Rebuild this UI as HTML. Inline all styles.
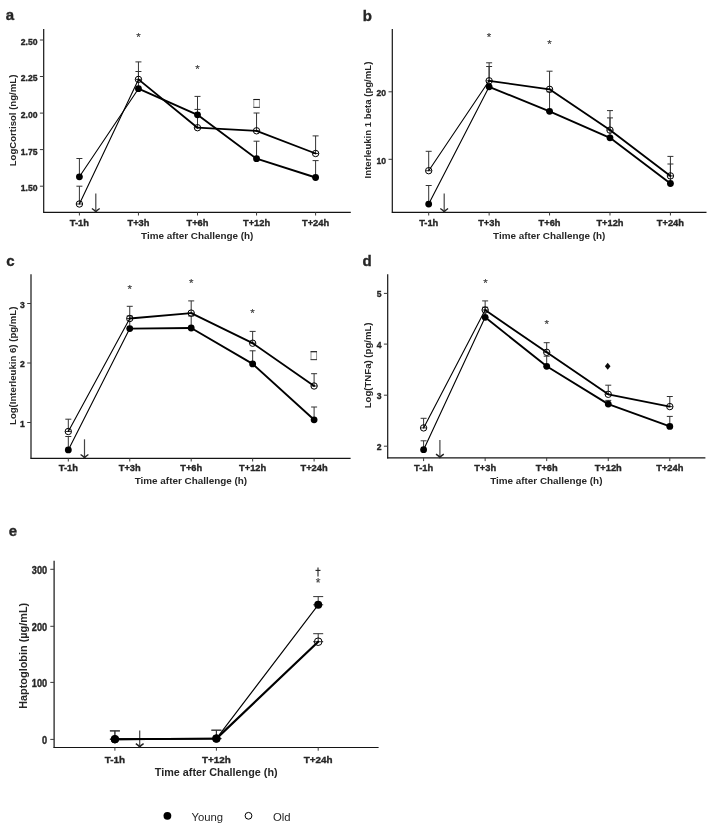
<!DOCTYPE html><html><head><meta charset="utf-8"><style>html,body{margin:0;padding:0;background:#fff;}svg{display:block;filter:grayscale(1) blur(0.3px);}text{font-family:"Liberation Sans",sans-serif;}</style></head><body>
<svg width="710" height="829" viewBox="0 0 710 829">
<rect width="710" height="829" fill="#fff"/>
<line x1="43.7" y1="29" x2="43.7" y2="212.8" stroke="#141414" stroke-width="1.2" />
<line x1="43.2" y1="212.3" x2="350.8" y2="212.3" stroke="#141414" stroke-width="1.2" />
<line x1="39.9" y1="40" x2="43.7" y2="40" stroke="#3a3a3a" stroke-width="1" />
<text x="0" y="0" transform="translate(37.5 44.9) scale(0.93 1.03)" font-size="9.3" text-anchor="end" font-weight="bold" fill="#262626" stroke="#262626" stroke-width="0.35" >2.50</text>
<line x1="39.9" y1="76.5" x2="43.7" y2="76.5" stroke="#3a3a3a" stroke-width="1" />
<text x="0" y="0" transform="translate(37.5 81.4) scale(0.93 1.03)" font-size="9.3" text-anchor="end" font-weight="bold" fill="#262626" stroke="#262626" stroke-width="0.35" >2.25</text>
<line x1="39.9" y1="113.1" x2="43.7" y2="113.1" stroke="#3a3a3a" stroke-width="1" />
<text x="0" y="0" transform="translate(37.5 118) scale(0.93 1.03)" font-size="9.3" text-anchor="end" font-weight="bold" fill="#262626" stroke="#262626" stroke-width="0.35" >2.00</text>
<line x1="39.9" y1="149.6" x2="43.7" y2="149.6" stroke="#3a3a3a" stroke-width="1" />
<text x="0" y="0" transform="translate(37.5 154.5) scale(0.93 1.03)" font-size="9.3" text-anchor="end" font-weight="bold" fill="#262626" stroke="#262626" stroke-width="0.35" >1.75</text>
<line x1="39.9" y1="186.2" x2="43.7" y2="186.2" stroke="#3a3a3a" stroke-width="1" />
<text x="0" y="0" transform="translate(37.5 191.1) scale(0.93 1.03)" font-size="9.3" text-anchor="end" font-weight="bold" fill="#262626" stroke="#262626" stroke-width="0.35" >1.50</text>
<line x1="79.4" y1="212.3" x2="79.4" y2="215.5" stroke="#3a3a3a" stroke-width="1" />
<text x="79.4" y="226.2" font-size="9.3" text-anchor="middle" font-weight="bold" fill="#262626" stroke="#262626" stroke-width="0.35" >T-1h</text>
<line x1="138.45" y1="212.3" x2="138.45" y2="215.5" stroke="#3a3a3a" stroke-width="1" />
<text x="138.45" y="226.2" font-size="9.3" text-anchor="middle" font-weight="bold" fill="#262626" stroke="#262626" stroke-width="0.35" >T+3h</text>
<line x1="197.5" y1="212.3" x2="197.5" y2="215.5" stroke="#3a3a3a" stroke-width="1" />
<text x="197.5" y="226.2" font-size="9.3" text-anchor="middle" font-weight="bold" fill="#262626" stroke="#262626" stroke-width="0.35" >T+6h</text>
<line x1="256.55" y1="212.3" x2="256.55" y2="215.5" stroke="#3a3a3a" stroke-width="1" />
<text x="256.55" y="226.2" font-size="9.3" text-anchor="middle" font-weight="bold" fill="#262626" stroke="#262626" stroke-width="0.35" >T+12h</text>
<line x1="315.6" y1="212.3" x2="315.6" y2="215.5" stroke="#3a3a3a" stroke-width="1" />
<text x="315.6" y="226.2" font-size="9.3" text-anchor="middle" font-weight="bold" fill="#262626" stroke="#262626" stroke-width="0.35" >T+24h</text>
<text x="197.2" y="239.2" font-size="9.9" text-anchor="middle" font-weight="bold" fill="#262626" stroke-width="0">Time after Challenge (h)</text>
<text x="0" y="0" transform="translate(15.6 120.5) rotate(-90)" font-size="9.6" text-anchor="middle" font-weight="bold" fill="#262626" stroke-width="0">LogCortisol (ng/mL)</text>
<text x="5.8" y="20.2" font-size="15" text-anchor="start" font-weight="bold" fill="#262626" stroke="#262626" stroke-width="0.35" >a</text>
<line x1="95.8" y1="193.6" x2="95.8" y2="211.7" stroke="#444" stroke-width="1.2" />
<path d="M91.9 208.5 Q94.8 210.3 95.8 211.8 Q96.8 210.3 99.7 208.5" fill="none" stroke="#222" stroke-width="1.4"/>
<line x1="79.4" y1="186.2" x2="79.4" y2="204" stroke="#333" stroke-width="1" />
<line x1="76.4" y1="186.2" x2="82.4" y2="186.2" stroke="#333" stroke-width="1" />
<line x1="76.4" y1="204" x2="82.4" y2="204" stroke="#333" stroke-width="1" />
<line x1="138.45" y1="61.9" x2="138.45" y2="79.4" stroke="#333" stroke-width="1" />
<line x1="135.45" y1="61.9" x2="141.45" y2="61.9" stroke="#333" stroke-width="1" />
<line x1="135.45" y1="79.4" x2="141.45" y2="79.4" stroke="#333" stroke-width="1" />
<line x1="197.5" y1="109.4" x2="197.5" y2="127.7" stroke="#333" stroke-width="1" />
<line x1="194.5" y1="109.4" x2="200.5" y2="109.4" stroke="#333" stroke-width="1" />
<line x1="194.5" y1="127.7" x2="200.5" y2="127.7" stroke="#333" stroke-width="1" />
<line x1="256.55" y1="113" x2="256.55" y2="130.8" stroke="#333" stroke-width="1" />
<line x1="253.55" y1="113" x2="259.55" y2="113" stroke="#333" stroke-width="1" />
<line x1="253.55" y1="130.8" x2="259.55" y2="130.8" stroke="#333" stroke-width="1" />
<line x1="315.6" y1="135.9" x2="315.6" y2="153.5" stroke="#333" stroke-width="1" />
<line x1="312.6" y1="135.9" x2="318.6" y2="135.9" stroke="#333" stroke-width="1" />
<line x1="312.6" y1="153.5" x2="318.6" y2="153.5" stroke="#333" stroke-width="1" />
<line x1="79.4" y1="158.5" x2="79.4" y2="176.8" stroke="#333" stroke-width="1" />
<line x1="76.4" y1="158.5" x2="82.4" y2="158.5" stroke="#333" stroke-width="1" />
<line x1="76.4" y1="176.8" x2="82.4" y2="176.8" stroke="#333" stroke-width="1" />
<line x1="138.45" y1="71.5" x2="138.45" y2="88.7" stroke="#333" stroke-width="1" />
<line x1="135.45" y1="71.5" x2="141.45" y2="71.5" stroke="#333" stroke-width="1" />
<line x1="135.45" y1="88.7" x2="141.45" y2="88.7" stroke="#333" stroke-width="1" />
<line x1="197.5" y1="96.4" x2="197.5" y2="114.8" stroke="#333" stroke-width="1" />
<line x1="194.5" y1="96.4" x2="200.5" y2="96.4" stroke="#333" stroke-width="1" />
<line x1="194.5" y1="114.8" x2="200.5" y2="114.8" stroke="#333" stroke-width="1" />
<line x1="256.55" y1="141.2" x2="256.55" y2="158.7" stroke="#333" stroke-width="1" />
<line x1="253.55" y1="141.2" x2="259.55" y2="141.2" stroke="#333" stroke-width="1" />
<line x1="253.55" y1="158.7" x2="259.55" y2="158.7" stroke="#333" stroke-width="1" />
<line x1="315.6" y1="160.6" x2="315.6" y2="177.5" stroke="#333" stroke-width="1" />
<line x1="312.6" y1="160.6" x2="318.6" y2="160.6" stroke="#333" stroke-width="1" />
<line x1="312.6" y1="177.5" x2="318.6" y2="177.5" stroke="#333" stroke-width="1" />
<line x1="79.4" y1="204" x2="138.45" y2="79.4" stroke="#000" stroke-width="1.1" stroke-linecap="round"/>
<line x1="138.45" y1="79.4" x2="197.5" y2="127.7" stroke="#000" stroke-width="1.85" stroke-linecap="round"/>
<line x1="197.5" y1="127.7" x2="256.55" y2="130.8" stroke="#000" stroke-width="1.85" stroke-linecap="round"/>
<line x1="256.55" y1="130.8" x2="315.6" y2="153.5" stroke="#000" stroke-width="1.85" stroke-linecap="round"/>
<line x1="79.4" y1="176.8" x2="138.45" y2="88.7" stroke="#000" stroke-width="1.1" stroke-linecap="round"/>
<line x1="138.45" y1="88.7" x2="197.5" y2="114.8" stroke="#000" stroke-width="1.85" stroke-linecap="round"/>
<line x1="197.5" y1="114.8" x2="256.55" y2="158.7" stroke="#000" stroke-width="1.85" stroke-linecap="round"/>
<line x1="256.55" y1="158.7" x2="315.6" y2="177.5" stroke="#000" stroke-width="1.85" stroke-linecap="round"/>
<circle cx="79.4" cy="176.8" r="3.4" fill="#000"/>
<circle cx="138.45" cy="88.7" r="3.4" fill="#000"/>
<circle cx="197.5" cy="114.8" r="3.4" fill="#000"/>
<circle cx="256.55" cy="158.7" r="3.4" fill="#000"/>
<circle cx="315.6" cy="177.5" r="3.4" fill="#000"/>
<circle cx="79.4" cy="204" r="3.1999999999999997" fill="none" stroke="#000" stroke-width="1"/>
<circle cx="138.45" cy="79.4" r="3.1999999999999997" fill="none" stroke="#000" stroke-width="1"/>
<circle cx="197.5" cy="127.7" r="3.1999999999999997" fill="none" stroke="#000" stroke-width="1"/>
<circle cx="256.55" cy="130.8" r="3.1999999999999997" fill="none" stroke="#000" stroke-width="1"/>
<circle cx="315.6" cy="153.5" r="3.1999999999999997" fill="none" stroke="#000" stroke-width="1"/>
<text x="138.5" y="40.97" font-size="11.5" text-anchor="middle" font-weight="normal" fill="#3a3a3a" stroke="#3a3a3a" stroke-width="0.15">*</text>
<text x="197.5" y="73.17" font-size="11.5" text-anchor="middle" font-weight="normal" fill="#3a3a3a" stroke="#3a3a3a" stroke-width="0.15">*</text>
<rect x="253.8" y="99.5" width="5.6" height="7.9" fill="none" stroke="#8a8a8a" stroke-width="0.9"/>
<line x1="253.4" y1="99.5" x2="259.8" y2="99.5" stroke="#1a1a1a" stroke-width="1.1" />
<line x1="253.4" y1="107.4" x2="259.8" y2="107.4" stroke="#444" stroke-width="1.1" />
<line x1="392.3" y1="29" x2="392.3" y2="212.8" stroke="#141414" stroke-width="1.2" />
<line x1="391.8" y1="212.3" x2="706.5" y2="212.3" stroke="#141414" stroke-width="1.2" />
<line x1="388.5" y1="91.8" x2="392.3" y2="91.8" stroke="#3a3a3a" stroke-width="1" />
<text x="0" y="0" transform="translate(386.1 96.1) scale(0.93 1.03)" font-size="9.3" text-anchor="end" font-weight="bold" fill="#262626" stroke="#262626" stroke-width="0.35" >20</text>
<line x1="388.5" y1="159.3" x2="392.3" y2="159.3" stroke="#3a3a3a" stroke-width="1" />
<text x="0" y="0" transform="translate(386.1 163.6) scale(0.93 1.03)" font-size="9.3" text-anchor="end" font-weight="bold" fill="#262626" stroke="#262626" stroke-width="0.35" >10</text>
<line x1="428.7" y1="212.3" x2="428.7" y2="215.5" stroke="#3a3a3a" stroke-width="1" />
<text x="428.7" y="226.2" font-size="9.3" text-anchor="middle" font-weight="bold" fill="#262626" stroke="#262626" stroke-width="0.35" >T-1h</text>
<line x1="489.13" y1="212.3" x2="489.13" y2="215.5" stroke="#3a3a3a" stroke-width="1" />
<text x="489.13" y="226.2" font-size="9.3" text-anchor="middle" font-weight="bold" fill="#262626" stroke="#262626" stroke-width="0.35" >T+3h</text>
<line x1="549.56" y1="212.3" x2="549.56" y2="215.5" stroke="#3a3a3a" stroke-width="1" />
<text x="549.56" y="226.2" font-size="9.3" text-anchor="middle" font-weight="bold" fill="#262626" stroke="#262626" stroke-width="0.35" >T+6h</text>
<line x1="609.99" y1="212.3" x2="609.99" y2="215.5" stroke="#3a3a3a" stroke-width="1" />
<text x="609.99" y="226.2" font-size="9.3" text-anchor="middle" font-weight="bold" fill="#262626" stroke="#262626" stroke-width="0.35" >T+12h</text>
<line x1="670.42" y1="212.3" x2="670.42" y2="215.5" stroke="#3a3a3a" stroke-width="1" />
<text x="670.42" y="226.2" font-size="9.3" text-anchor="middle" font-weight="bold" fill="#262626" stroke="#262626" stroke-width="0.35" >T+24h</text>
<text x="549.2" y="239.2" font-size="9.9" text-anchor="middle" font-weight="bold" fill="#262626" stroke-width="0">Time after Challenge (h)</text>
<text x="0" y="0" transform="translate(371.3 120) rotate(-90)" font-size="9.6" text-anchor="middle" font-weight="bold" fill="#262626" stroke-width="0">Interleukin 1 beta (pg/mL)</text>
<text x="362.8" y="20.5" font-size="15" text-anchor="start" font-weight="bold" fill="#262626" stroke="#262626" stroke-width="0.35" >b</text>
<line x1="444.2" y1="193.5" x2="444.2" y2="211.7" stroke="#444" stroke-width="1.2" />
<path d="M440.3 208.5 Q443.2 210.3 444.2 211.8 Q445.2 210.3 448.1 208.5" fill="none" stroke="#222" stroke-width="1.4"/>
<line x1="428.7" y1="151.3" x2="428.7" y2="170.7" stroke="#333" stroke-width="1" />
<line x1="425.7" y1="151.3" x2="431.7" y2="151.3" stroke="#333" stroke-width="1" />
<line x1="425.7" y1="170.7" x2="431.7" y2="170.7" stroke="#333" stroke-width="1" />
<line x1="489.13" y1="62.8" x2="489.13" y2="80.8" stroke="#333" stroke-width="1" />
<line x1="486.13" y1="62.8" x2="492.13" y2="62.8" stroke="#333" stroke-width="1" />
<line x1="486.13" y1="80.8" x2="492.13" y2="80.8" stroke="#333" stroke-width="1" />
<line x1="549.56" y1="71.2" x2="549.56" y2="89.3" stroke="#333" stroke-width="1" />
<line x1="546.56" y1="71.2" x2="552.56" y2="71.2" stroke="#333" stroke-width="1" />
<line x1="546.56" y1="89.3" x2="552.56" y2="89.3" stroke="#333" stroke-width="1" />
<line x1="609.99" y1="110.6" x2="609.99" y2="130.1" stroke="#333" stroke-width="1" />
<line x1="606.99" y1="110.6" x2="612.99" y2="110.6" stroke="#333" stroke-width="1" />
<line x1="606.99" y1="130.1" x2="612.99" y2="130.1" stroke="#333" stroke-width="1" />
<line x1="670.42" y1="156.4" x2="670.42" y2="175.9" stroke="#333" stroke-width="1" />
<line x1="667.42" y1="156.4" x2="673.42" y2="156.4" stroke="#333" stroke-width="1" />
<line x1="667.42" y1="175.9" x2="673.42" y2="175.9" stroke="#333" stroke-width="1" />
<line x1="428.7" y1="185.5" x2="428.7" y2="204.1" stroke="#333" stroke-width="1" />
<line x1="425.7" y1="185.5" x2="431.7" y2="185.5" stroke="#333" stroke-width="1" />
<line x1="425.7" y1="204.1" x2="431.7" y2="204.1" stroke="#333" stroke-width="1" />
<line x1="489.13" y1="66.5" x2="489.13" y2="86.8" stroke="#333" stroke-width="1" />
<line x1="486.13" y1="66.5" x2="492.13" y2="66.5" stroke="#333" stroke-width="1" />
<line x1="486.13" y1="86.8" x2="492.13" y2="86.8" stroke="#333" stroke-width="1" />
<line x1="549.56" y1="91.8" x2="549.56" y2="111.3" stroke="#333" stroke-width="1" />
<line x1="546.56" y1="91.8" x2="552.56" y2="91.8" stroke="#333" stroke-width="1" />
<line x1="546.56" y1="111.3" x2="552.56" y2="111.3" stroke="#333" stroke-width="1" />
<line x1="609.99" y1="117.9" x2="609.99" y2="137.8" stroke="#333" stroke-width="1" />
<line x1="606.99" y1="117.9" x2="612.99" y2="117.9" stroke="#333" stroke-width="1" />
<line x1="606.99" y1="137.8" x2="612.99" y2="137.8" stroke="#333" stroke-width="1" />
<line x1="670.42" y1="164" x2="670.42" y2="183.5" stroke="#333" stroke-width="1" />
<line x1="667.42" y1="164" x2="673.42" y2="164" stroke="#333" stroke-width="1" />
<line x1="667.42" y1="183.5" x2="673.42" y2="183.5" stroke="#333" stroke-width="1" />
<line x1="428.7" y1="170.7" x2="489.13" y2="80.8" stroke="#000" stroke-width="1.1" stroke-linecap="round"/>
<line x1="489.13" y1="80.8" x2="549.56" y2="89.3" stroke="#000" stroke-width="1.85" stroke-linecap="round"/>
<line x1="549.56" y1="89.3" x2="609.99" y2="130.1" stroke="#000" stroke-width="1.85" stroke-linecap="round"/>
<line x1="609.99" y1="130.1" x2="670.42" y2="175.9" stroke="#000" stroke-width="1.85" stroke-linecap="round"/>
<line x1="428.7" y1="204.1" x2="489.13" y2="86.8" stroke="#000" stroke-width="1.1" stroke-linecap="round"/>
<line x1="489.13" y1="86.8" x2="549.56" y2="111.3" stroke="#000" stroke-width="1.85" stroke-linecap="round"/>
<line x1="549.56" y1="111.3" x2="609.99" y2="137.8" stroke="#000" stroke-width="1.85" stroke-linecap="round"/>
<line x1="609.99" y1="137.8" x2="670.42" y2="183.5" stroke="#000" stroke-width="1.85" stroke-linecap="round"/>
<circle cx="428.7" cy="204.1" r="3.4" fill="#000"/>
<circle cx="489.13" cy="86.8" r="3.4" fill="#000"/>
<circle cx="549.56" cy="111.3" r="3.4" fill="#000"/>
<circle cx="609.99" cy="137.8" r="3.4" fill="#000"/>
<circle cx="670.42" cy="183.5" r="3.4" fill="#000"/>
<circle cx="428.7" cy="170.7" r="3.1999999999999997" fill="none" stroke="#000" stroke-width="1"/>
<circle cx="489.13" cy="80.8" r="3.1999999999999997" fill="none" stroke="#000" stroke-width="1"/>
<circle cx="549.56" cy="89.3" r="3.1999999999999997" fill="none" stroke="#000" stroke-width="1"/>
<circle cx="609.99" cy="130.1" r="3.1999999999999997" fill="none" stroke="#000" stroke-width="1"/>
<circle cx="670.42" cy="175.9" r="3.1999999999999997" fill="none" stroke="#000" stroke-width="1"/>
<text x="489.1" y="40.88" font-size="11.5" text-anchor="middle" font-weight="normal" fill="#3a3a3a" stroke="#3a3a3a" stroke-width="0.15">*</text>
<text x="549.6" y="47.67" font-size="11.5" text-anchor="middle" font-weight="normal" fill="#3a3a3a" stroke="#3a3a3a" stroke-width="0.15">*</text>
<line x1="31" y1="274.2" x2="31" y2="458.8" stroke="#141414" stroke-width="1.2" />
<line x1="30.5" y1="458.3" x2="350.6" y2="458.3" stroke="#141414" stroke-width="1.2" />
<line x1="27.2" y1="303.5" x2="31" y2="303.5" stroke="#3a3a3a" stroke-width="1" />
<text x="0" y="0" transform="translate(24.8 307.9) scale(0.93 1.03)" font-size="9.3" text-anchor="end" font-weight="bold" fill="#262626" stroke="#262626" stroke-width="0.35" >3</text>
<line x1="27.2" y1="363" x2="31" y2="363" stroke="#3a3a3a" stroke-width="1" />
<text x="0" y="0" transform="translate(24.8 367.4) scale(0.93 1.03)" font-size="9.3" text-anchor="end" font-weight="bold" fill="#262626" stroke="#262626" stroke-width="0.35" >2</text>
<line x1="27.2" y1="422.5" x2="31" y2="422.5" stroke="#3a3a3a" stroke-width="1" />
<text x="0" y="0" transform="translate(24.8 426.9) scale(0.93 1.03)" font-size="9.3" text-anchor="end" font-weight="bold" fill="#262626" stroke="#262626" stroke-width="0.35" >1</text>
<line x1="68.3" y1="458.3" x2="68.3" y2="461.5" stroke="#3a3a3a" stroke-width="1" />
<text x="68.3" y="471" font-size="9.3" text-anchor="middle" font-weight="bold" fill="#262626" stroke="#262626" stroke-width="0.35" >T-1h</text>
<line x1="129.75" y1="458.3" x2="129.75" y2="461.5" stroke="#3a3a3a" stroke-width="1" />
<text x="129.75" y="471" font-size="9.3" text-anchor="middle" font-weight="bold" fill="#262626" stroke="#262626" stroke-width="0.35" >T+3h</text>
<line x1="191.2" y1="458.3" x2="191.2" y2="461.5" stroke="#3a3a3a" stroke-width="1" />
<text x="191.2" y="471" font-size="9.3" text-anchor="middle" font-weight="bold" fill="#262626" stroke="#262626" stroke-width="0.35" >T+6h</text>
<line x1="252.65" y1="458.3" x2="252.65" y2="461.5" stroke="#3a3a3a" stroke-width="1" />
<text x="252.65" y="471" font-size="9.3" text-anchor="middle" font-weight="bold" fill="#262626" stroke="#262626" stroke-width="0.35" >T+12h</text>
<line x1="314.1" y1="458.3" x2="314.1" y2="461.5" stroke="#3a3a3a" stroke-width="1" />
<text x="314.1" y="471" font-size="9.3" text-anchor="middle" font-weight="bold" fill="#262626" stroke="#262626" stroke-width="0.35" >T+24h</text>
<text x="190.9" y="483.6" font-size="9.9" text-anchor="middle" font-weight="bold" fill="#262626" stroke-width="0">Time after Challenge (h)</text>
<text x="0" y="0" transform="translate(15.5 365.8) rotate(-90)" font-size="9.6" text-anchor="middle" font-weight="bold" fill="#262626" stroke-width="0">Log(Interleukin 6) (pg/mL)</text>
<text x="6.3" y="266" font-size="15" text-anchor="start" font-weight="bold" fill="#262626" stroke="#262626" stroke-width="0.35" >c</text>
<line x1="84.5" y1="439.3" x2="84.5" y2="457.7" stroke="#444" stroke-width="1.2" />
<path d="M80.6 454.5 Q83.5 456.3 84.5 457.8 Q85.5 456.3 88.4 454.5" fill="none" stroke="#222" stroke-width="1.4"/>
<line x1="68.3" y1="419.2" x2="68.3" y2="431.5" stroke="#333" stroke-width="1" />
<line x1="65.3" y1="419.2" x2="71.3" y2="419.2" stroke="#333" stroke-width="1" />
<line x1="65.3" y1="431.5" x2="71.3" y2="431.5" stroke="#333" stroke-width="1" />
<line x1="129.75" y1="306.3" x2="129.75" y2="318.5" stroke="#333" stroke-width="1" />
<line x1="126.75" y1="306.3" x2="132.75" y2="306.3" stroke="#333" stroke-width="1" />
<line x1="126.75" y1="318.5" x2="132.75" y2="318.5" stroke="#333" stroke-width="1" />
<line x1="191.2" y1="300.9" x2="191.2" y2="313.1" stroke="#333" stroke-width="1" />
<line x1="188.2" y1="300.9" x2="194.2" y2="300.9" stroke="#333" stroke-width="1" />
<line x1="188.2" y1="313.1" x2="194.2" y2="313.1" stroke="#333" stroke-width="1" />
<line x1="252.65" y1="331.4" x2="252.65" y2="343.2" stroke="#333" stroke-width="1" />
<line x1="249.65" y1="331.4" x2="255.65" y2="331.4" stroke="#333" stroke-width="1" />
<line x1="249.65" y1="343.2" x2="255.65" y2="343.2" stroke="#333" stroke-width="1" />
<line x1="314.1" y1="373.7" x2="314.1" y2="386" stroke="#333" stroke-width="1" />
<line x1="311.1" y1="373.7" x2="317.1" y2="373.7" stroke="#333" stroke-width="1" />
<line x1="311.1" y1="386" x2="317.1" y2="386" stroke="#333" stroke-width="1" />
<line x1="68.3" y1="436.5" x2="68.3" y2="449.9" stroke="#333" stroke-width="1" />
<line x1="65.3" y1="436.5" x2="71.3" y2="436.5" stroke="#333" stroke-width="1" />
<line x1="65.3" y1="449.9" x2="71.3" y2="449.9" stroke="#333" stroke-width="1" />
<line x1="129.75" y1="316" x2="129.75" y2="328.6" stroke="#333" stroke-width="1" />
<line x1="126.75" y1="316" x2="132.75" y2="316" stroke="#333" stroke-width="1" />
<line x1="126.75" y1="328.6" x2="132.75" y2="328.6" stroke="#333" stroke-width="1" />
<line x1="191.2" y1="316" x2="191.2" y2="328" stroke="#333" stroke-width="1" />
<line x1="188.2" y1="316" x2="194.2" y2="316" stroke="#333" stroke-width="1" />
<line x1="188.2" y1="328" x2="194.2" y2="328" stroke="#333" stroke-width="1" />
<line x1="252.65" y1="350.8" x2="252.65" y2="363.9" stroke="#333" stroke-width="1" />
<line x1="249.65" y1="350.8" x2="255.65" y2="350.8" stroke="#333" stroke-width="1" />
<line x1="249.65" y1="363.9" x2="255.65" y2="363.9" stroke="#333" stroke-width="1" />
<line x1="314.1" y1="407" x2="314.1" y2="419.8" stroke="#333" stroke-width="1" />
<line x1="311.1" y1="407" x2="317.1" y2="407" stroke="#333" stroke-width="1" />
<line x1="311.1" y1="419.8" x2="317.1" y2="419.8" stroke="#333" stroke-width="1" />
<line x1="68.3" y1="431.5" x2="129.75" y2="318.5" stroke="#000" stroke-width="1.1" stroke-linecap="round"/>
<line x1="129.75" y1="318.5" x2="191.2" y2="313.1" stroke="#000" stroke-width="1.85" stroke-linecap="round"/>
<line x1="191.2" y1="313.1" x2="252.65" y2="343.2" stroke="#000" stroke-width="1.85" stroke-linecap="round"/>
<line x1="252.65" y1="343.2" x2="314.1" y2="386" stroke="#000" stroke-width="1.85" stroke-linecap="round"/>
<line x1="68.3" y1="449.9" x2="129.75" y2="328.6" stroke="#000" stroke-width="1.1" stroke-linecap="round"/>
<line x1="129.75" y1="328.6" x2="191.2" y2="328" stroke="#000" stroke-width="1.85" stroke-linecap="round"/>
<line x1="191.2" y1="328" x2="252.65" y2="363.9" stroke="#000" stroke-width="1.85" stroke-linecap="round"/>
<line x1="252.65" y1="363.9" x2="314.1" y2="419.8" stroke="#000" stroke-width="1.85" stroke-linecap="round"/>
<circle cx="68.3" cy="449.9" r="3.4" fill="#000"/>
<circle cx="129.75" cy="328.6" r="3.4" fill="#000"/>
<circle cx="191.2" cy="328" r="3.4" fill="#000"/>
<circle cx="252.65" cy="363.9" r="3.4" fill="#000"/>
<circle cx="314.1" cy="419.8" r="3.4" fill="#000"/>
<circle cx="68.3" cy="431.5" r="3.1999999999999997" fill="none" stroke="#000" stroke-width="1"/>
<circle cx="129.75" cy="318.5" r="3.1999999999999997" fill="none" stroke="#000" stroke-width="1"/>
<circle cx="191.2" cy="313.1" r="3.1999999999999997" fill="none" stroke="#000" stroke-width="1"/>
<circle cx="252.65" cy="343.2" r="3.1999999999999997" fill="none" stroke="#000" stroke-width="1"/>
<circle cx="314.1" cy="386" r="3.1999999999999997" fill="none" stroke="#000" stroke-width="1"/>
<text x="129.8" y="292.57" font-size="11.5" text-anchor="middle" font-weight="normal" fill="#3a3a3a" stroke="#3a3a3a" stroke-width="0.15">*</text>
<text x="191.3" y="286.98" font-size="11.5" text-anchor="middle" font-weight="normal" fill="#3a3a3a" stroke="#3a3a3a" stroke-width="0.15">*</text>
<text x="252.6" y="316.68" font-size="11.5" text-anchor="middle" font-weight="normal" fill="#3a3a3a" stroke="#3a3a3a" stroke-width="0.15">*</text>
<rect x="311" y="351.7" width="5.6" height="7.9" fill="none" stroke="#8a8a8a" stroke-width="0.9"/>
<line x1="310.6" y1="351.7" x2="317" y2="351.7" stroke="#1a1a1a" stroke-width="1.1" />
<line x1="310.6" y1="359.6" x2="317" y2="359.6" stroke="#444" stroke-width="1.1" />
<line x1="387.7" y1="274.2" x2="387.7" y2="458.4" stroke="#141414" stroke-width="1.2" />
<line x1="387.2" y1="457.9" x2="705.4" y2="457.9" stroke="#141414" stroke-width="1.2" />
<line x1="383.9" y1="293.4" x2="387.7" y2="293.4" stroke="#3a3a3a" stroke-width="1" />
<text x="0" y="0" transform="translate(381.5 297.4) scale(0.93 1.03)" font-size="9.3" text-anchor="end" font-weight="bold" fill="#262626" stroke="#262626" stroke-width="0.35" >5</text>
<line x1="383.9" y1="344.1" x2="387.7" y2="344.1" stroke="#3a3a3a" stroke-width="1" />
<text x="0" y="0" transform="translate(381.5 348.1) scale(0.93 1.03)" font-size="9.3" text-anchor="end" font-weight="bold" fill="#262626" stroke="#262626" stroke-width="0.35" >4</text>
<line x1="383.9" y1="395.2" x2="387.7" y2="395.2" stroke="#3a3a3a" stroke-width="1" />
<text x="0" y="0" transform="translate(381.5 399.2) scale(0.93 1.03)" font-size="9.3" text-anchor="end" font-weight="bold" fill="#262626" stroke="#262626" stroke-width="0.35" >3</text>
<line x1="383.9" y1="446.2" x2="387.7" y2="446.2" stroke="#3a3a3a" stroke-width="1" />
<text x="0" y="0" transform="translate(381.5 450.2) scale(0.93 1.03)" font-size="9.3" text-anchor="end" font-weight="bold" fill="#262626" stroke="#262626" stroke-width="0.35" >2</text>
<line x1="423.6" y1="457.9" x2="423.6" y2="461.1" stroke="#3a3a3a" stroke-width="1" />
<text x="423.6" y="471" font-size="9.3" text-anchor="middle" font-weight="bold" fill="#262626" stroke="#262626" stroke-width="0.35" >T-1h</text>
<line x1="485.15" y1="457.9" x2="485.15" y2="461.1" stroke="#3a3a3a" stroke-width="1" />
<text x="485.15" y="471" font-size="9.3" text-anchor="middle" font-weight="bold" fill="#262626" stroke="#262626" stroke-width="0.35" >T+3h</text>
<line x1="546.7" y1="457.9" x2="546.7" y2="461.1" stroke="#3a3a3a" stroke-width="1" />
<text x="546.7" y="471" font-size="9.3" text-anchor="middle" font-weight="bold" fill="#262626" stroke="#262626" stroke-width="0.35" >T+6h</text>
<line x1="608.25" y1="457.9" x2="608.25" y2="461.1" stroke="#3a3a3a" stroke-width="1" />
<text x="608.25" y="471" font-size="9.3" text-anchor="middle" font-weight="bold" fill="#262626" stroke="#262626" stroke-width="0.35" >T+12h</text>
<line x1="669.8" y1="457.9" x2="669.8" y2="461.1" stroke="#3a3a3a" stroke-width="1" />
<text x="669.8" y="471" font-size="9.3" text-anchor="middle" font-weight="bold" fill="#262626" stroke="#262626" stroke-width="0.35" >T+24h</text>
<text x="546.3" y="483.6" font-size="9.9" text-anchor="middle" font-weight="bold" fill="#262626" stroke-width="0">Time after Challenge (h)</text>
<text x="0" y="0" transform="translate(371.2 365.4) rotate(-90)" font-size="9.6" text-anchor="middle" font-weight="bold" fill="#262626" stroke-width="0">Log(TNFa) (pg/mL)</text>
<text x="362.6" y="265.6" font-size="15" text-anchor="start" font-weight="bold" fill="#262626" stroke="#262626" stroke-width="0.35" >d</text>
<line x1="439.9" y1="439.9" x2="439.9" y2="457.3" stroke="#444" stroke-width="1.2" />
<path d="M436 454.1 Q438.9 455.9 439.9 457.4 Q440.9 455.9 443.8 454.1" fill="none" stroke="#222" stroke-width="1.4"/>
<line x1="423.6" y1="418.3" x2="423.6" y2="427.9" stroke="#333" stroke-width="1" />
<line x1="420.6" y1="418.3" x2="426.6" y2="418.3" stroke="#333" stroke-width="1" />
<line x1="420.6" y1="427.9" x2="426.6" y2="427.9" stroke="#333" stroke-width="1" />
<line x1="485.15" y1="300.9" x2="485.15" y2="310" stroke="#333" stroke-width="1" />
<line x1="482.15" y1="300.9" x2="488.15" y2="300.9" stroke="#333" stroke-width="1" />
<line x1="482.15" y1="310" x2="488.15" y2="310" stroke="#333" stroke-width="1" />
<line x1="546.7" y1="342.7" x2="546.7" y2="352.3" stroke="#333" stroke-width="1" />
<line x1="543.7" y1="342.7" x2="549.7" y2="342.7" stroke="#333" stroke-width="1" />
<line x1="543.7" y1="352.3" x2="549.7" y2="352.3" stroke="#333" stroke-width="1" />
<line x1="608.25" y1="385.2" x2="608.25" y2="394.3" stroke="#333" stroke-width="1" />
<line x1="605.25" y1="385.2" x2="611.25" y2="385.2" stroke="#333" stroke-width="1" />
<line x1="605.25" y1="394.3" x2="611.25" y2="394.3" stroke="#333" stroke-width="1" />
<line x1="669.8" y1="396.5" x2="669.8" y2="406.6" stroke="#333" stroke-width="1" />
<line x1="666.8" y1="396.5" x2="672.8" y2="396.5" stroke="#333" stroke-width="1" />
<line x1="666.8" y1="406.6" x2="672.8" y2="406.6" stroke="#333" stroke-width="1" />
<line x1="423.6" y1="440.8" x2="423.6" y2="449.7" stroke="#333" stroke-width="1" />
<line x1="420.6" y1="440.8" x2="426.6" y2="440.8" stroke="#333" stroke-width="1" />
<line x1="420.6" y1="449.7" x2="426.6" y2="449.7" stroke="#333" stroke-width="1" />
<line x1="485.15" y1="307.2" x2="485.15" y2="317.3" stroke="#333" stroke-width="1" />
<line x1="482.15" y1="307.2" x2="488.15" y2="307.2" stroke="#333" stroke-width="1" />
<line x1="482.15" y1="317.3" x2="488.15" y2="317.3" stroke="#333" stroke-width="1" />
<line x1="546.7" y1="356.2" x2="546.7" y2="366.3" stroke="#333" stroke-width="1" />
<line x1="543.7" y1="356.2" x2="549.7" y2="356.2" stroke="#333" stroke-width="1" />
<line x1="543.7" y1="366.3" x2="549.7" y2="366.3" stroke="#333" stroke-width="1" />
<line x1="608.25" y1="400.4" x2="608.25" y2="404.1" stroke="#333" stroke-width="1" />
<line x1="605.25" y1="400.4" x2="611.25" y2="400.4" stroke="#333" stroke-width="1" />
<line x1="605.25" y1="404.1" x2="611.25" y2="404.1" stroke="#333" stroke-width="1" />
<line x1="669.8" y1="416.4" x2="669.8" y2="426.4" stroke="#333" stroke-width="1" />
<line x1="666.8" y1="416.4" x2="672.8" y2="416.4" stroke="#333" stroke-width="1" />
<line x1="666.8" y1="426.4" x2="672.8" y2="426.4" stroke="#333" stroke-width="1" />
<line x1="423.6" y1="427.9" x2="485.15" y2="310" stroke="#000" stroke-width="1.1" stroke-linecap="round"/>
<line x1="485.15" y1="310" x2="546.7" y2="352.3" stroke="#000" stroke-width="1.85" stroke-linecap="round"/>
<line x1="546.7" y1="352.3" x2="608.25" y2="394.3" stroke="#000" stroke-width="1.85" stroke-linecap="round"/>
<line x1="608.25" y1="394.3" x2="669.8" y2="406.6" stroke="#000" stroke-width="1.85" stroke-linecap="round"/>
<line x1="423.6" y1="449.7" x2="485.15" y2="317.3" stroke="#000" stroke-width="1.1" stroke-linecap="round"/>
<line x1="485.15" y1="317.3" x2="546.7" y2="366.3" stroke="#000" stroke-width="1.85" stroke-linecap="round"/>
<line x1="546.7" y1="366.3" x2="608.25" y2="404.1" stroke="#000" stroke-width="1.85" stroke-linecap="round"/>
<line x1="608.25" y1="404.1" x2="669.8" y2="426.4" stroke="#000" stroke-width="1.85" stroke-linecap="round"/>
<circle cx="423.6" cy="449.7" r="3.4" fill="#000"/>
<circle cx="485.15" cy="317.3" r="3.4" fill="#000"/>
<circle cx="546.7" cy="366.3" r="3.4" fill="#000"/>
<circle cx="608.25" cy="404.1" r="3.4" fill="#000"/>
<circle cx="669.8" cy="426.4" r="3.4" fill="#000"/>
<circle cx="423.6" cy="427.9" r="3.1999999999999997" fill="none" stroke="#000" stroke-width="1"/>
<circle cx="485.15" cy="310" r="3.1999999999999997" fill="none" stroke="#000" stroke-width="1"/>
<circle cx="546.7" cy="352.3" r="3.1999999999999997" fill="none" stroke="#000" stroke-width="1"/>
<circle cx="608.25" cy="394.3" r="3.1999999999999997" fill="none" stroke="#000" stroke-width="1"/>
<circle cx="669.8" cy="406.6" r="3.1999999999999997" fill="none" stroke="#000" stroke-width="1"/>
<text x="485.4" y="286.68" font-size="11.5" text-anchor="middle" font-weight="normal" fill="#3a3a3a" stroke="#3a3a3a" stroke-width="0.15">*</text>
<text x="546.7" y="327.57" font-size="11.5" text-anchor="middle" font-weight="normal" fill="#3a3a3a" stroke="#3a3a3a" stroke-width="0.15">*</text>
<path d="M607.7 362.8 L610.5 366.3 L607.7 369.8 L604.9 366.3Z" fill="#0a0a0a"/>
<line x1="54.1" y1="560.8" x2="54.1" y2="748" stroke="#141414" stroke-width="1.2" />
<line x1="53.6" y1="747.5" x2="378.6" y2="747.5" stroke="#141414" stroke-width="1.2" />
<line x1="50.3" y1="569.3" x2="54.1" y2="569.3" stroke="#3a3a3a" stroke-width="1" />
<text x="0" y="0" transform="translate(47.2 574.32) scale(0.93 1.03)" font-size="9.9" text-anchor="end" font-weight="bold" fill="#262626" stroke="#262626" stroke-width="0.35" >300</text>
<line x1="50.3" y1="626.3" x2="54.1" y2="626.3" stroke="#3a3a3a" stroke-width="1" />
<text x="0" y="0" transform="translate(47.2 631.32) scale(0.93 1.03)" font-size="9.9" text-anchor="end" font-weight="bold" fill="#262626" stroke="#262626" stroke-width="0.35" >200</text>
<line x1="50.3" y1="682.4" x2="54.1" y2="682.4" stroke="#3a3a3a" stroke-width="1" />
<text x="0" y="0" transform="translate(47.2 687.42) scale(0.93 1.03)" font-size="9.9" text-anchor="end" font-weight="bold" fill="#262626" stroke="#262626" stroke-width="0.35" >100</text>
<line x1="50.3" y1="739.4" x2="54.1" y2="739.4" stroke="#3a3a3a" stroke-width="1" />
<text x="0" y="0" transform="translate(47.2 744.42) scale(0.93 1.03)" font-size="9.9" text-anchor="end" font-weight="bold" fill="#262626" stroke="#262626" stroke-width="0.35" >0</text>
<line x1="114.9" y1="747.5" x2="114.9" y2="750.7" stroke="#3a3a3a" stroke-width="1" />
<text x="114.9" y="762.8" font-size="9.9" text-anchor="middle" font-weight="bold" fill="#262626" stroke="#262626" stroke-width="0.35" >T-1h</text>
<line x1="216.4" y1="747.5" x2="216.4" y2="750.7" stroke="#3a3a3a" stroke-width="1" />
<text x="216.4" y="762.8" font-size="9.9" text-anchor="middle" font-weight="bold" fill="#262626" stroke="#262626" stroke-width="0.35" >T+12h</text>
<line x1="318.2" y1="747.5" x2="318.2" y2="750.7" stroke="#3a3a3a" stroke-width="1" />
<text x="318.2" y="762.8" font-size="9.9" text-anchor="middle" font-weight="bold" fill="#262626" stroke="#262626" stroke-width="0.35" >T+24h</text>
<text x="216.2" y="776.4" font-size="10.8" text-anchor="middle" font-weight="bold" fill="#262626" stroke-width="0">Time after Challenge (h)</text>
<text x="0" y="0" transform="translate(26.8 655.8) rotate(-90)" font-size="10.9" text-anchor="middle" font-weight="bold" fill="#262626" stroke-width="0">Haptoglobin (µg/mL)</text>
<text x="8.8" y="535.6" font-size="15" text-anchor="start" font-weight="bold" fill="#262626" stroke="#262626" stroke-width="0.35" >e</text>
<line x1="139.7" y1="730.4" x2="139.7" y2="746.9" stroke="#444" stroke-width="1.2" />
<path d="M135.8 743.7 Q138.7 745.5 139.7 747 Q140.7 745.5 143.6 743.7" fill="none" stroke="#222" stroke-width="1.4"/>
<line x1="114.9" y1="730.9" x2="114.9" y2="739.2" stroke="#333" stroke-width="1" />
<line x1="109.9" y1="730.9" x2="119.9" y2="730.9" stroke="#333" stroke-width="1" />
<line x1="109.9" y1="739.2" x2="119.9" y2="739.2" stroke="#333" stroke-width="1" />
<line x1="216.4" y1="730.2" x2="216.4" y2="738.6" stroke="#333" stroke-width="1" />
<line x1="211.4" y1="730.2" x2="221.4" y2="730.2" stroke="#333" stroke-width="1" />
<line x1="211.4" y1="738.6" x2="221.4" y2="738.6" stroke="#333" stroke-width="1" />
<line x1="318.2" y1="633.7" x2="318.2" y2="641.7" stroke="#333" stroke-width="1" />
<line x1="313.2" y1="633.7" x2="323.2" y2="633.7" stroke="#333" stroke-width="1" />
<line x1="313.2" y1="641.7" x2="323.2" y2="641.7" stroke="#333" stroke-width="1" />
<line x1="114.9" y1="730.9" x2="114.9" y2="739.2" stroke="#333" stroke-width="1" />
<line x1="109.9" y1="730.9" x2="119.9" y2="730.9" stroke="#333" stroke-width="1" />
<line x1="109.9" y1="739.2" x2="119.9" y2="739.2" stroke="#333" stroke-width="1" />
<line x1="216.4" y1="730.2" x2="216.4" y2="738.6" stroke="#333" stroke-width="1" />
<line x1="211.4" y1="730.2" x2="221.4" y2="730.2" stroke="#333" stroke-width="1" />
<line x1="211.4" y1="738.6" x2="221.4" y2="738.6" stroke="#333" stroke-width="1" />
<line x1="318.2" y1="596.6" x2="318.2" y2="604.8" stroke="#333" stroke-width="1" />
<line x1="313.2" y1="596.6" x2="323.2" y2="596.6" stroke="#333" stroke-width="1" />
<line x1="313.2" y1="604.8" x2="323.2" y2="604.8" stroke="#333" stroke-width="1" />
<line x1="114.9" y1="739.2" x2="216.4" y2="738.6" stroke="#000" stroke-width="1.85" stroke-linecap="round"/>
<line x1="216.4" y1="738.6" x2="318.2" y2="641.7" stroke="#000" stroke-width="2.2" stroke-linecap="round"/>
<line x1="114.9" y1="739.2" x2="216.4" y2="738.6" stroke="#000" stroke-width="1.85" stroke-linecap="round"/>
<line x1="216.4" y1="738.6" x2="318.2" y2="604.8" stroke="#000" stroke-width="1.1" stroke-linecap="round"/>
<circle cx="114.9" cy="739.2" r="4" fill="#000"/>
<circle cx="216.4" cy="738.6" r="4" fill="#000"/>
<circle cx="318.2" cy="604.8" r="4" fill="#000"/>
<circle cx="114.9" cy="739.2" r="3.8" fill="none" stroke="#000" stroke-width="1"/>
<circle cx="216.4" cy="738.6" r="3.8" fill="none" stroke="#000" stroke-width="1"/>
<circle cx="318.2" cy="641.7" r="3.8" fill="none" stroke="#000" stroke-width="1"/>
<line x1="318" y1="567.6" x2="318" y2="576.4" stroke="#222" stroke-width="1.1" />
<line x1="315.5" y1="570.4" x2="320.5" y2="570.4" stroke="#222" stroke-width="1.1" />
<text x="318" y="587.2" font-size="12" text-anchor="middle" font-weight="normal" fill="#3a3a3a" stroke="#3a3a3a" stroke-width="0.15">*</text>
<circle cx="167.4" cy="815.8" r="3.9" fill="#000"/>
<text x="191.4" y="820.8" font-size="11.3" text-anchor="start" font-weight="normal" fill="#262626" >Young</text>
<circle cx="248.5" cy="815.8" r="3.4" fill="none" stroke="#000" stroke-width="1"/>
<text x="273" y="820.8" font-size="11.3" text-anchor="start" font-weight="normal" fill="#262626" >Old</text>
</svg></body></html>
